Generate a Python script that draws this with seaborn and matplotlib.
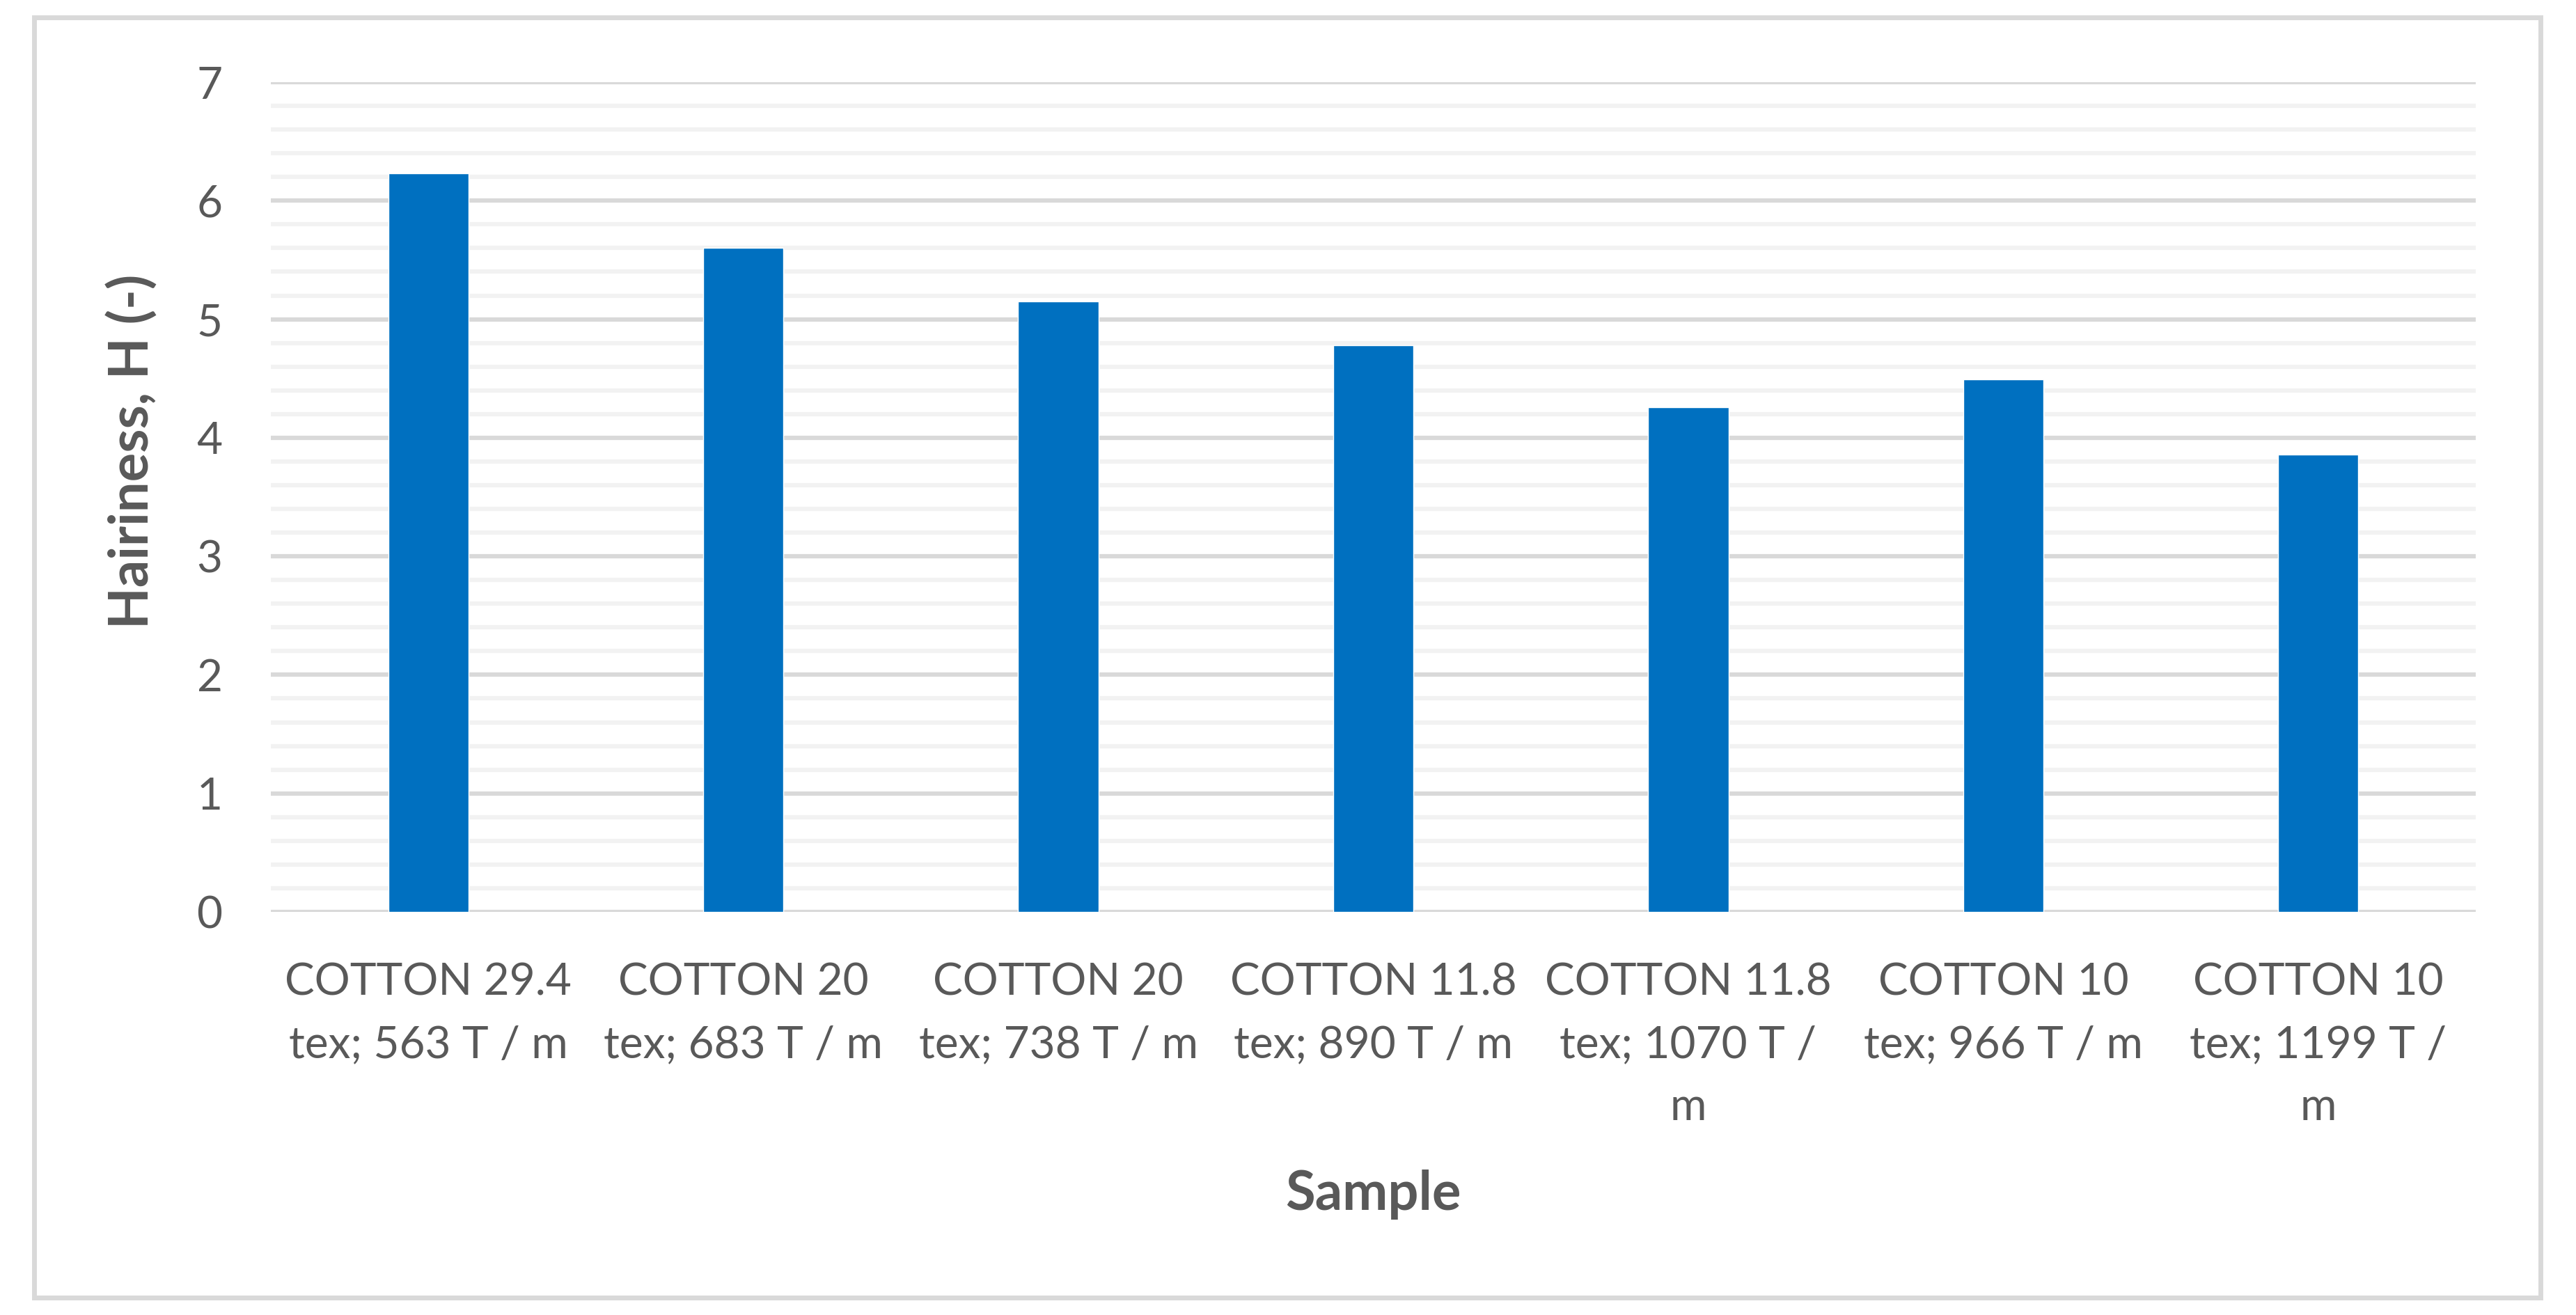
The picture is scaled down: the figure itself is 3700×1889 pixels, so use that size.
import matplotlib
matplotlib.use("Agg")
import matplotlib.pyplot as plt
import seaborn as sns
import pandas as pd
from matplotlib.ticker import MultipleLocator
from matplotlib.patches import Rectangle

samples = [
    "COTTON 29.4\ntex; 563 T / m",
    "COTTON 20\ntex; 683 T / m",
    "COTTON 20\ntex; 738 T / m",
    "COTTON 11.8\ntex; 890 T / m",
    "COTTON 11.8\ntex; 1070 T /\nm",
    "COTTON 10\ntex; 966 T / m",
    "COTTON 10\ntex; 1199 T /\nm",
]
hairiness = [6.23, 5.60, 5.15, 4.78, 4.26, 4.49, 3.86]

y_ticks = [0, 1, 2, 3, 4, 5, 6, 7]
x_title = "Sample"
y_title = "Hairiness, H (-)"

sns.set_theme(style="white")
plt.rcParams['font.family'] = ['Lato', 'DejaVu Sans']

W, H = 3700, 1889
fig = plt.figure(figsize=(W / 100, H / 100), dpi=100)
ax = fig.add_axes([389 / W, 1 - 1310 / H, (3556 - 389) / W, (1310 - 118) / H])

df = pd.DataFrame({"Sample": samples, "Hairiness": hairiness})
sns.barplot(data=df, x="Sample", y="Hairiness", color="#0070C0",
            saturation=1, width=0.255, ax=ax, zorder=3)

ax.set_ylim(0, 7)
ax.set_xlim(-0.5, len(samples) - 0.5)
ax.set_yticks(y_ticks)
ax.yaxis.set_minor_locator(MultipleLocator(0.2))
ax.set_axisbelow(True)
ax.grid(False)
ax.yaxis.grid(True, which="major", color="#D9D9D9", linewidth=4.5, zorder=1)
ax.yaxis.grid(True, which="minor", color="#F2F2F2", linewidth=4.5, zorder=0)
for s in ax.spines.values():
    s.set_visible(False)

ax.tick_params(axis="both", which="both", length=0)
ax.tick_params(axis="y", labelsize=46, labelcolor="#595959", pad=50)
ax.tick_params(axis="x", labelsize=46, labelcolor="#595959", pad=52)
for lbl in ax.get_xticklabels():
    lbl.set_linespacing(1.68)

ax.set_xlabel("")
ax.set_ylabel("")
fig.text(190 / W, 1 - 648 / H, y_title, rotation=90, ha="center", va="center",
         fontsize=56, fontweight="bold", color="#595959")
fig.text((389 + 3556) / 2 / W, 1 - 1716 / H, x_title, ha="center", va="center",
         fontsize=56, fontweight="bold", color="#595959")

frame = Rectangle((49 / W, 1 - 1864 / H), (3649 - 49) / W, (1864 - 25) / H,
                  transform=fig.transFigure, fill=False, edgecolor="#D9D9D9",
                  linewidth=5)
fig.patches.append(frame)

fig.savefig("out.png", dpi=100, facecolor="white")
